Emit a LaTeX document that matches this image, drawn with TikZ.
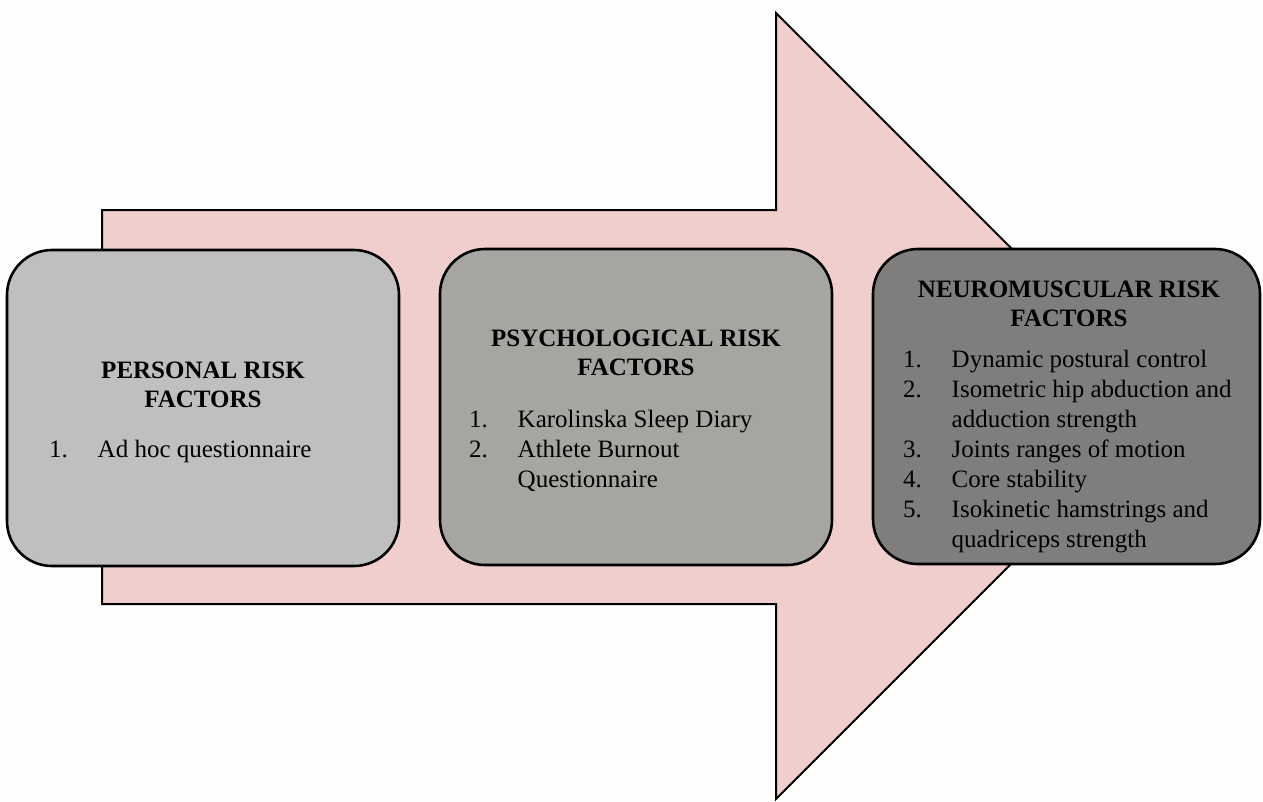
\documentclass[tikz,border=0pt]{standalone}
\usepackage{fontspec}
\setmainfont{Liberation Serif}
\definecolor{arrowpink}{HTML}{F0CECB}
\definecolor{boxA}{HTML}{C0BFBF}
\definecolor{boxB}{HTML}{A6A5A2}
\definecolor{boxC}{HTML}{7F7E7C}
\definecolor{bgwhite}{HTML}{FEFFFD}
\tikzset{
  panel/.style={draw=black, line width=2.6pt, rounded corners=45pt, inner sep=0pt},
  titletext/.style={anchor=base, inner sep=0pt, font=\fontsize{25}{29}\selectfont\bfseries},
  listtext/.style={anchor=base west, inner sep=0pt, font=\fontsize{25}{30}\selectfont},
}
\newcommand{\ttl}[2]{\begin{tabular}[t]{@{}c@{}}#1\\#2\end{tabular}}
\newenvironment{itemtab}{\begin{tabular}[t]{@{}p{48.5pt}@{}l@{}}}{\end{tabular}}
\begin{document}
\begin{tikzpicture}[x=1pt,y=-1pt]
\fill[bgwhite] (0,0) rectangle (1263,801);
\useasboundingbox (0,0) rectangle (1263,801);
% big arrow
\draw[fill=arrowpink, line width=2pt, line join=miter]
  (102,210) -- (776,210) -- (776,13) -- (1169,406) -- (776,799) -- (776,604) -- (102,604) -- cycle;
% panels
\node[panel, fill=boxA, minimum width=392pt, minimum height=316pt] (p1) at (203,408) {};
\node[panel, fill=boxB, minimum width=392pt, minimum height=316pt] (p2) at (636,407) {};
\node[panel, fill=boxC, minimum width=387pt, minimum height=315pt] (p3) at (1066.5,406.5) {};
% texts
\node[titletext] (t1) at (203,378) {\ttl{PERSONAL RISK}{FACTORS}};
\node[listtext] (l1) at (49,457) {\begin{itemtab}1. & Ad hoc questionnaire\end{itemtab}};
\node[titletext] (t2) at (636,346) {\ttl{PSYCHOLOGICAL RISK}{FACTORS}};
\node[listtext] (l2) at (469,427) {\begin{itemtab}1. & Karolinska Sleep Diary\\2. & Athlete Burnout\\ & Questionnaire\end{itemtab}};
\node[titletext] (t3) at (1069,297) {\ttl{NEUROMUSCULAR RISK}{FACTORS}};
\node[listtext] (l3) at (903,367) {\begin{itemtab}1. & Dynamic postural control\\2. & Isometric hip abduction and\\ & adduction strength\\3. & Joints ranges of motion\\4. & Core stability\\5. & Isokinetic hamstrings and\\ & quadriceps strength\end{itemtab}};
\end{tikzpicture}
\end{document}
